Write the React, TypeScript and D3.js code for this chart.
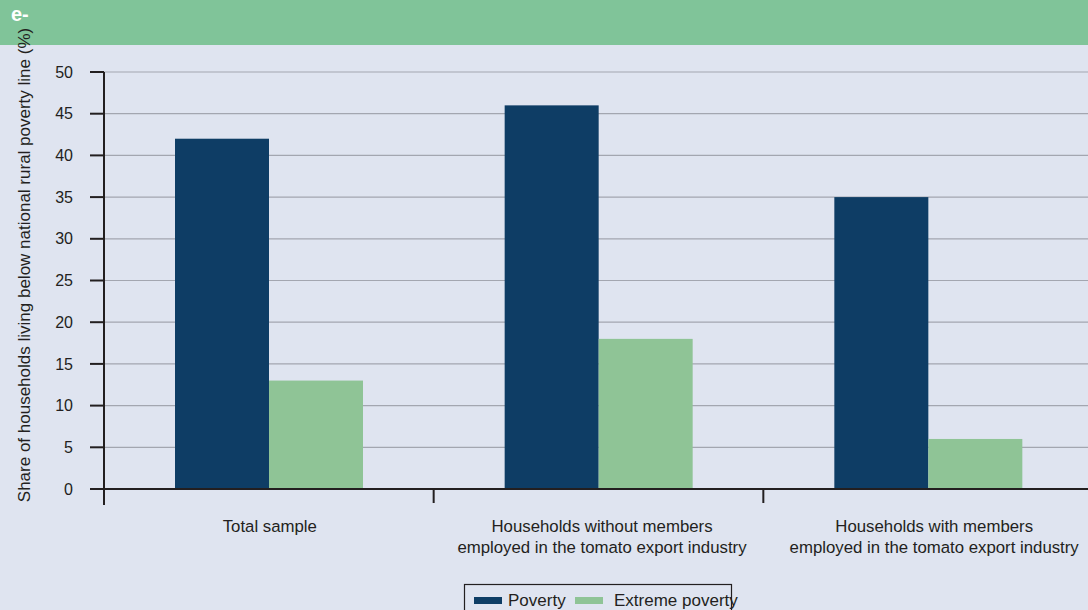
import React from "react";
import * as d3 from "d3";

const categories: string[][] = [
  ["Total sample"],
  ["Households without members", "employed in the tomato export industry"],
  ["Households with members", "employed in the tomato export industry"],
];
const seriesNames = ["Poverty", "Extreme poverty"];
const poverty = [42, 46, 35];
const extremePoverty = [13, 18, 6];
const yTicks = [0, 5, 10, 15, 20, 25, 30, 35, 40, 45, 50];

const W = 1088;
const H = 610;
const COLORS = ["#0e3d65", "#8fc496"];
const FONT = "'Liberation Sans', Arial, sans-serif";

export default function App() {
  const y = d3.scaleLinear().domain([0, 50]).range([489, 72]);
  const x = d3
    .scaleBand<number>()
    .domain(categories.map((_, i) => i))
    .range([104, 1093])
    .padding(0);
  const inner = d3
    .scaleBand<number>()
    .domain([0, 1])
    .range([71, 259])
    .padding(0);
  const series = [poverty, extremePoverty];
  const boundaries = [0, 1, 2].map((i) => x(i)!);
  const labelX = (ci: number) => x(ci)! + x.bandwidth() / 2 + 1 + ci * 2.5;

  return (
    <div style={{ position: "fixed", left: 0, top: 0 }}>
      <svg width={W} height={H} style={{ display: "block", fontFamily: FONT }}>
        <rect x={0} y={0} width={W} height={H} fill="#dfe4f0" />
        <rect x={0} y={0} width={W} height={45} fill="#80c499" />
        <text x={11} y={21} fill="#ffffff" fontSize={20} fontWeight="bold">
          e-
        </text>

        {/* gridlines */}
        {yTicks
          .filter((t) => t > 0)
          .map((t) => (
            <line key={t} x1={104} x2={W} y1={y(t)} y2={y(t)} stroke="#a3a6b0" strokeWidth={1.2} />
          ))}

        {/* bars */}
        {categories.map((_, ci) =>
          series.map((vals, si) => (
            <rect
              key={`${ci}-${si}`}
              x={x(ci)! + inner(si)!}
              y={y(vals[ci])}
              width={inner.bandwidth()}
              height={y(0) - y(vals[ci])}
              fill={COLORS[si]}
            />
          ))
        )}

        {/* y axis */}
        <line x1={104} x2={104} y1={72} y2={505} stroke="#231f20" strokeWidth={2} />
        {yTicks.map((t) => (
          <g key={t}>
            <line x1={90} x2={104} y1={y(t)} y2={y(t)} stroke="#231f20" strokeWidth={2} />
            <text x={73} y={y(t)} dy="0.35em" textAnchor="end" fontSize={16} fill="#231f20">
              {t}
            </text>
          </g>
        ))}

        {/* x axis */}
        <line x1={90} x2={W} y1={y(0)} y2={y(0)} stroke="#231f20" strokeWidth={2.2} />
        {boundaries.map((b, i) => (
          <line key={i} x1={b} x2={b} y1={y(0)} y2={503} stroke="#231f20" strokeWidth={2} />
        ))}
        {categories.map((lines, ci) => (
          <text key={ci} x={labelX(ci)} y={532} textAnchor="middle" fontSize={16.8} fill="#231f20">
            {lines.map((l, li) => (
              <tspan key={li} x={labelX(ci)} dy={li === 0 ? 0 : 20.5}>
                {l}
              </tspan>
            ))}
          </text>
        ))}

        {/* y axis title */}
        <text
          transform={`translate(30,265) rotate(-90)`}
          textAnchor="middle"
          fontSize={17}
          fill="#231f20"
        >
          Share of households living below national rural poverty line (%)
        </text>

        {/* legend */}
        <rect x={464.5} y={584.5} width={267} height={40} fill="none" stroke="#231f20" strokeWidth={1.2} />
        {seriesNames.map((name, i) => {
          const lx = [474, 575][i];
          const tx = [508, 614][i];
          return (
            <g key={name}>
              <rect x={lx} y={597} width={28} height={7} fill={COLORS[i]} />
              <text x={tx} y={606} fontSize={17} fill="#231f20">
                {name}
              </text>
            </g>
          );
        })}
      </svg>
    </div>
  );
}
